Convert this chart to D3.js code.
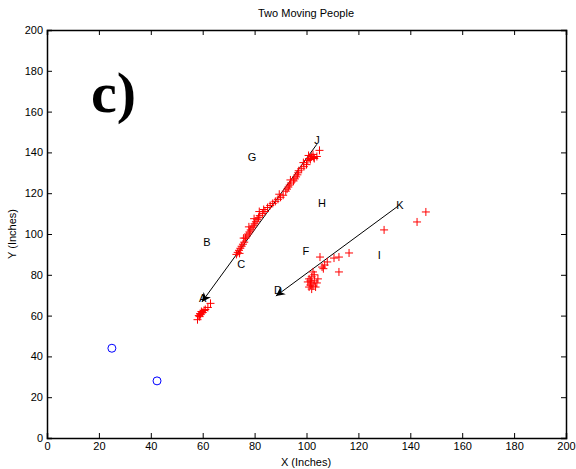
<!DOCTYPE html>
<html><head><meta charset="utf-8">
<script src="https://cdn.jsdelivr.net/npm/d3@7"></script>
<style>body{margin:0;background:#fff}svg{display:block}</style>
</head><body><svg id="c" width="576" height="469"></svg>
<script>
const xTicks=[0,20,40,60,80,100,120,140,160,180,200];
const yTicks=[0,20,40,60,80,100,120,140,160,180,200];
const person1X=[58,58.5,58.8,59,59.2,59.5,60,60.5,61,62,63,
 73,73.5,74,74.5,75,75.5,76,76.5,77,77.5,78,78.5,79,79.5,80,80.5,81,81.5,82,83,84,85,86,87,88,89,90,91,92,92.5,93,93.5,94,95,95.5,96,96.5,97,98,99,100,100.5,101,101.5,102,102.5,103,104,105,
 74.2,75.8,77.8,79.8,81.8,83.5,89.5,93.8,96.8,98.8,100.8,102.8];
const person1Y=[58,60,59.5,61,60.5,62,61.5,62.5,63,64,66,
 90,91,92,93,94,95,96,98,99,100,101,102,103,104,105,106,107,108,109,110,111,113,114,115,116,117,118,119,121,122,123,124,125,126,127,128,129,131,132,133,134,136,137,136.5,138,139,137,138,141,
 90.5,98,103.5,107.5,111,112,119.5,126.5,130,135,138.5,137.5];
const person2X=[101,101.5,102,102.5,103,101,102,103,104,102,103.5,101.5,100.5,102.5,104.4,106,107,106.5,108,110.6,105.2,112.5,116.4,112.5,129.9,142.6,146];
const person2Y=[74,75,76,74.5,77,78,79,80,76,73,74,77,76.5,81.4,78,83.8,84.8,83,86.3,88.2,88.7,88.7,90.7,81.4,102,105.9,110.8];
const circleX=[25,42.4];
const circleY=[44,28];
const arrowFrom=[[104,144],[135.3,113.7]];
const arrowTo=[[59.7,66.7],[88.2,69.6]];
const labelText=["J","G","H","B","C","F","I","K","D","A"];
const labelX=[104,79,106,61.6,74.8,99.8,128,136,89,60];
const labelY=[146,137.5,115,96,85,91.7,89.7,114,72.5,68.6];

const svg=d3.select("#c");
const L=47,R=566,T=30,B=438;
const x=d3.scaleLinear().domain([0,200]).range([L,R]);
const y=d3.scaleLinear().domain([0,200]).range([B,T]);
const font="Liberation Sans, Arial, sans-serif";

svg.append("defs").append("marker").attr("id","ah").attr("viewBox","0 0 10 10")
 .attr("refX",10).attr("refY",5).attr("markerWidth",11).attr("markerHeight",9)
 .attr("markerUnits","userSpaceOnUse").attr("orient","auto")
 .append("path").attr("d","M0,0 L10,5 L0,10 L3,5 Z").attr("fill","#000");

const gx=svg.append("g").attr("transform",`translate(0,${B})`)
 .call(d3.axisBottom(x).tickValues(xTicks).tickSize(-5).tickPadding(4));
const gxt=svg.append("g").attr("transform",`translate(0,${T})`)
 .call(d3.axisTop(x).tickValues(xTicks).tickSize(-5).tickFormat(""));
const gy=svg.append("g").attr("transform",`translate(${L},0)`)
 .call(d3.axisLeft(y).tickValues(yTicks).tickSize(-5).tickPadding(4));
const gyr=svg.append("g").attr("transform",`translate(${R},0)`)
 .call(d3.axisRight(y).tickValues(yTicks).tickSize(-5).tickFormat(""));
[gx,gxt,gy,gyr].forEach(g=>{
 g.select(".domain").attr("stroke","#000").attr("stroke-width",1.5);
 g.selectAll(".tick line").attr("stroke","#000");
 g.selectAll("text").attr("font-family",font).attr("font-size",11).attr("fill","#000");
});

svg.append("text").attr("x",306).attr("y",17).attr("text-anchor","middle")
 .attr("font-family",font).attr("font-size",11).text("Two Moving People");
svg.append("text").attr("x",306).attr("y",466).attr("text-anchor","middle")
 .attr("font-family",font).attr("font-size",11).text("X (Inches)");
svg.append("text").attr("transform","translate(16,234) rotate(-90)").attr("text-anchor","middle")
 .attr("font-family",font).attr("font-size",11).text("Y (Inches)");

svg.append("text").attr("x",91).attr("y",112).attr("font-family","Liberation Serif, Times New Roman, serif")
 .attr("font-weight","bold").attr("font-size",58).text("c)");

// arrows
arrowFrom.forEach((f,i)=>{
 svg.append("line").attr("x1",x(f[0])).attr("y1",y(f[1])).attr("x2",x(arrowTo[i][0])).attr("y2",y(arrowTo[i][1]))
  .attr("stroke","#000").attr("stroke-width",1).attr("marker-end","url(#ah)");
});

function plus(xs,ys){
 const s=4;
 xs.forEach((v,i)=>{
  const cx=x(v),cy=y(ys[i]);
  svg.append("path").attr("d",`M${cx-s},${cy}H${cx+s}M${cx},${cy-s}V${cy+s}`)
   .attr("stroke","#ff0000").attr("stroke-width",1).attr("fill","none");
 });
}
plus(person1X,person1Y);
plus(person2X,person2Y);

svg.selectAll("circle.o").data(circleX).enter().append("circle")
 .attr("cx",d=>x(d)).attr("cy",(d,i)=>y(circleY[i])).attr("r",4)
 .attr("fill","none").attr("stroke","#0000ff").attr("stroke-width",1);

labelText.forEach((t,i)=>{
 svg.append("text").attr("x",x(labelX[i])).attr("y",y(labelY[i])).attr("dy","0.35em")
  .attr("text-anchor","middle").attr("font-family",font).attr("font-size",11).attr("fill","#000").text(t);
});
</script></body></html>
